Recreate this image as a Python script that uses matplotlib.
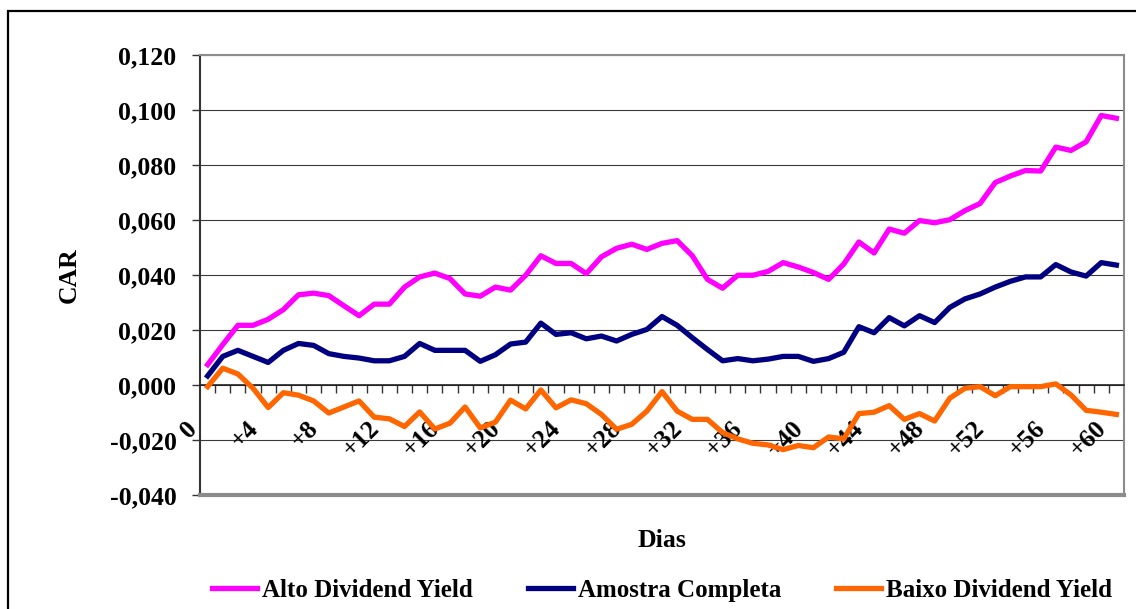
import matplotlib.pyplot as plt
import matplotlib.transforms as mtransforms
from matplotlib.patches import Rectangle
from matplotlib.ticker import FuncFormatter, MultipleLocator
import numpy as np

plt.rcParams['font.family'] = ['Liberation Serif', 'DejaVu Serif']
plt.rcParams['font.weight'] = 'bold'
plt.rcParams['axes.labelweight'] = 'bold'
plt.rcParams['axes.unicode_minus'] = False

# dias do evento: 0 a +60
dias = np.arange(0, 61)
tick_dias = np.arange(0, 61, 4)
tick_labels = ['0'] + [f'+{d}' for d in tick_dias[1:]]

alto_dy = [0.0074, 0.0147, 0.0217, 0.0217, 0.0239, 0.0274, 0.0328, 0.0334, 0.0325, 0.0288,
           0.0252, 0.0294, 0.0294, 0.0356, 0.0393, 0.0407, 0.0387, 0.0331, 0.0323, 0.0356,
           0.0345, 0.0399, 0.0470, 0.0442, 0.0442, 0.0405, 0.0466, 0.0497, 0.0512, 0.0493,
           0.0515, 0.0525, 0.0470, 0.0384, 0.0352, 0.0399, 0.0399, 0.0413, 0.0445, 0.0429,
           0.0409, 0.0384, 0.0440, 0.0520, 0.0480, 0.0567, 0.0552, 0.0598, 0.0590, 0.0601,
           0.0634, 0.0660, 0.0736, 0.0760, 0.0780, 0.0778, 0.0865, 0.0853, 0.0884, 0.0980,
           0.0970]
amostra = [0.0033, 0.0104, 0.0126, 0.0104, 0.0082, 0.0126, 0.0151, 0.0144, 0.0114, 0.0104,
           0.0098, 0.0088, 0.0088, 0.0104, 0.0151, 0.0126, 0.0126, 0.0126, 0.0086, 0.0110,
           0.0149, 0.0156, 0.0225, 0.0184, 0.0190, 0.0168, 0.0178, 0.0160, 0.0184, 0.0202,
           0.0249, 0.0217, 0.0172, 0.0129, 0.0088, 0.0096, 0.0088, 0.0094, 0.0104, 0.0104,
           0.0086, 0.0096, 0.0119, 0.0212, 0.0190, 0.0245, 0.0215, 0.0252, 0.0227, 0.0282,
           0.0313, 0.0331, 0.0356, 0.0377, 0.0393, 0.0393, 0.0438, 0.0411, 0.0396, 0.0445,
           0.0436]
baixo_dy = [-0.0006, 0.0061, 0.0040, -0.0012, -0.0082, -0.0028, -0.0037, -0.0058, -0.0102, -0.0080,
            -0.0058, -0.0117, -0.0123, -0.0151, -0.0098, -0.0160, -0.0139, -0.0080, -0.0156, -0.0135,
            -0.0055, -0.0087, -0.0018, -0.0083, -0.0054, -0.0068, -0.0107, -0.0161, -0.0143, -0.0095,
            -0.0024, -0.0095, -0.0125, -0.0125, -0.0173, -0.0196, -0.0212, -0.0218, -0.0235, -0.0220,
            -0.0228, -0.0189, -0.0196, -0.0104, -0.0099, -0.0075, -0.0125, -0.0104, -0.0131, -0.0048,
            -0.0012, -0.0006, -0.0039, -0.0006, -0.0006, -0.0006, 0.0004, -0.0036, -0.0092, -0.0099,
            -0.0107]

fig = plt.figure(figsize=(11.36, 6.09), dpi=100)
ax = fig.add_axes([0.1761, 0.1872, 0.8133, 0.7225])

ax.plot(dias, alto_dy, color='#FF00FF', lw=3.8, label='Alto Dividend Yield', zorder=4)
ax.plot(dias, amostra, color='#000080', lw=3.8, label='Amostra Completa', zorder=4)
ax.plot(dias, baixo_dy, color='#FF6600', lw=3.8, label='Baixo Dividend Yield', zorder=4)

# eixo Y
ax.set_ylim(-0.04, 0.12)
ax.yaxis.set_major_locator(MultipleLocator(0.02))
ax.yaxis.set_major_formatter(FuncFormatter(lambda v, p: f'{v:.3f}'.replace('.', ',')))
ax.tick_params(axis='y', direction='out', length=6, width=1, color='#333333',
               labelsize=18.5, pad=11)
ax.grid(axis='y', color='#3a3a3a', lw=0.8, zorder=1)
ax.set_axisbelow(True)

# eixo X cruza em zero, marcas entre categorias
ax.set_xlim(-0.5, 60.5)
ax.spines['bottom'].set_position(('data', 0))
ax.spines['bottom'].set_color('#222222')
ax.spines['bottom'].set_linewidth(1.2)
ax.set_xticks(np.arange(0.5, 60, 1))
ax.set_xticklabels([])
ax.tick_params(axis='x', direction='out', length=6, width=1, color='#333333')

offset = mtransforms.ScaledTranslation(-0.14, -0.40, fig.dpi_scale_trans)
trans = ax.transData + offset
for d, lab in zip(tick_dias, tick_labels):
    ax.text(d, 0, lab, transform=trans, rotation=45, rotation_mode='anchor',
            ha='right', va='center', fontsize=18.5, fontweight='bold')

ax.spines['left'].set_color('#333333')
ax.spines['left'].set_linewidth(1.5)
for s in ['top', 'right']:
    ax.spines[s].set_color('#8c8c8c')
    ax.spines[s].set_linewidth(1.5)
# moldura inferior da area do grafico
ax.axhline(-0.04, color='#8c8c8c', lw=3, zorder=5, clip_on=False)

ax.set_ylabel('CAR', fontsize=18.5)
ax.yaxis.set_label_coords(-0.1288, 0.5)
ax.set_xlabel('Dias', fontsize=18.5)
ax.xaxis.set_label_coords(0.5, -0.1045)
ax.xaxis.label.set_va('center')

fig.legend(loc='center', bbox_to_anchor=(0.583, 0.031), ncol=3, frameon=False,
           fontsize=18, handlelength=1.8, handletextpad=0.2, columnspacing=2.2)

# borda externa
fig.patches.append(Rectangle((8 / 1136, -0.2), 1.2, 1.2 - 11 / 609,
                             transform=fig.transFigure, fill=False,
                             edgecolor='black', lw=1.6))

fig.savefig('out.png', dpi=100)
